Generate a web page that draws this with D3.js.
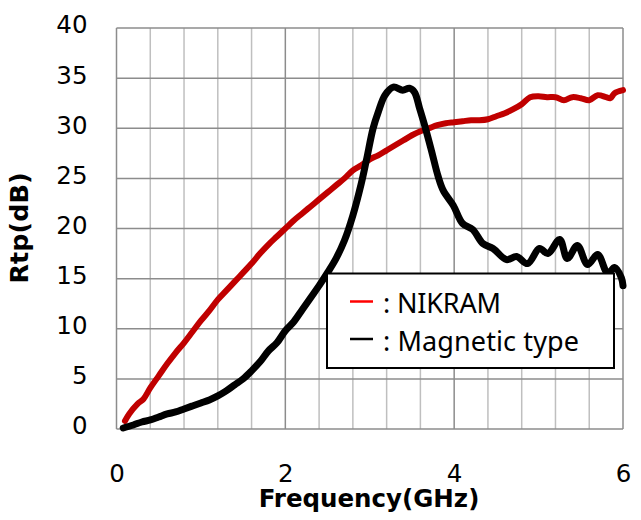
<!DOCTYPE html>
<html>
<head>
<meta charset="utf-8">
<script src="https://cdn.jsdelivr.net/npm/d3@7"></script>
<style>
  html, body { margin: 0; padding: 0; background: #fff; }
  svg { display: block; }
</style>
</head>
<body>
<svg id="chart" width="641" height="520"></svg>
<script>
// ---- data ----
const nikramFreq = [0.1,0.15,0.25,0.32,0.4,0.5,0.6,0.7,0.8,0.9,1.0,1.1,1.2,1.3,1.4,1.5,1.6,1.7,1.8,1.9,2.0,2.1,2.2,2.3,2.4,2.5,2.6,2.7,2.8,2.9,3.0,3.1,3.2,3.3,3.4,3.5,3.6,3.7,3.8,3.9,4.0,4.1,4.2,4.3,4.4,4.5,4.6,4.7,4.8,4.9,5.0,5.1,5.2,5.3,5.4,5.5,5.6,5.7,5.8,5.85,5.9,6.0];
const nikramRtp  = [0.8,1.5,2.5,3.0,4.1,5.3,6.5,7.6,8.6,9.7,10.8,11.8,12.9,13.8,14.7,15.6,16.5,17.5,18.4,19.2,20.0,20.8,21.5,22.2,22.9,23.6,24.3,25.0,25.8,26.3,26.9,27.3,27.8,28.3,28.8,29.3,29.7,30.0,30.3,30.5,30.6,30.7,30.8,30.8,30.9,31.2,31.5,31.9,32.4,33.1,33.2,33.1,33.1,32.8,33.1,33.0,32.8,33.3,33.1,33.0,33.5,33.8];

const magFreq = [0.08,0.2,0.3,0.4,0.5,0.6,0.7,0.8,0.9,1.0,1.1,1.2,1.3,1.4,1.5,1.6,1.7,1.8,1.9,2.0,2.1,2.2,2.3,2.4,2.5,2.6,2.7,2.8,2.9,2.96,3.04,3.1,3.18,3.28,3.39,3.47,3.53,3.59,3.65,3.73,3.81,3.87,3.99,4.1,4.22,4.34,4.46,4.62,4.74,4.87,5.01,5.11,5.25,5.34,5.46,5.58,5.70,5.82,5.90,5.98,6.0];
const magRtp  = [0.1,0.4,0.7,0.9,1.2,1.5,1.7,2.0,2.3,2.6,2.9,3.3,3.8,4.4,5.0,5.8,6.7,7.8,8.6,9.8,10.7,11.9,13.1,14.3,15.6,17.0,18.8,21.3,24.5,26.8,30.0,31.6,33.3,34.1,33.8,34.0,33.6,32.0,30.3,27.8,25.2,23.8,22.3,20.5,19.9,18.5,18.0,16.9,17.2,16.5,18.0,17.5,18.9,17.0,18.3,16.4,17.4,15.5,16.1,15.1,14.3];

const yTicks = [0,5,10,15,20,25,30,35,40];
const xTicks = [0,2,4,6];
const xMinor = d3.range(0, 6.0001, 0.4);
const legendLabels = [": NIKRAM", ": Magnetic type"];
const legendColors = ["#ff0000", "#000000"];

// ---- layout ----
const svg = d3.select("#chart");
const L = 116.5, R = 623, T = 28, B = 429;
const x = d3.scaleLinear().domain([0, 6]).range([L, R]);
const y = d3.scaleLinear().domain([0, 40]).range([B, T]);

// grid
const isMajor = d => Math.abs(d / 2 - Math.round(d / 2)) < 1e-6;
const grid = svg.append("g");
grid.selectAll("line.v").data(xMinor).join("line")
  .attr("x1", d => x(d)).attr("x2", d => x(d))
  .attr("y1", T).attr("y2", B)
  .attr("stroke", d => isMajor(d) ? "#8c8c8c" : "#bfbfbf")
  .attr("stroke-width", 1.5);
grid.selectAll("line.h").data(yTicks).join("line")
  .attr("x1", L).attr("x2", R)
  .attr("y1", d => y(d)).attr("y2", d => y(d))
  .attr("stroke", "#8c8c8c").attr("stroke-width", 1.5);

// axes labels (through d3 axes)
const yAxis = svg.append("g").attr("transform", `translate(${L - 29},0)`)
  .call(d3.axisLeft(y).tickValues(yTicks).tickFormat(d3.format("d")).tickSize(0).tickPadding(0));
yAxis.select(".domain").remove();
yAxis.selectAll("text")
  .attr("font-family", "DejaVu Sans").attr("font-size", 24.5).attr("fill", "#000")
  .attr("dy", "0.2em");

const xAxis = svg.append("g").attr("transform", `translate(0,${B})`)
  .call(d3.axisBottom(x).tickValues(xTicks).tickFormat(d3.format("d")).tickSize(0).tickPadding(0));
xAxis.select(".domain").remove();
xAxis.selectAll("text")
  .attr("font-family", "DejaVu Sans").attr("font-size", 24.5).attr("fill", "#000")
  .attr("dy", null).attr("y", 53);

// titles
svg.append("text").attr("x", 369).attr("y", 507).attr("text-anchor", "middle")
  .attr("font-family", "DejaVu Sans").attr("font-weight", "bold").attr("font-size", 24.5)
  .text("Frequency(GHz)");
svg.append("text").attr("transform", "translate(28,228) rotate(-90)").attr("text-anchor", "middle")
  .attr("font-family", "DejaVu Sans").attr("font-weight", "bold").attr("font-size", 25.5)
  .text("Rtp(dB)");

// lines
const line = d3.line().x(d => x(d[0])).y(d => y(d[1])).curve(d3.curveCatmullRom.alpha(0.5));
svg.append("path").datum(nikramFreq.map((f, i) => [f, nikramRtp[i]]))
  .attr("d", line).attr("fill", "none").attr("stroke", "#c00000")
  .attr("stroke-width", 6).attr("stroke-linejoin", "round").attr("stroke-linecap", "round");
svg.append("path").datum(magFreq.map((f, i) => [f, magRtp[i]]))
  .attr("d", line).attr("fill", "none").attr("stroke", "#000")
  .attr("stroke-width", 7).attr("stroke-linejoin", "round").attr("stroke-linecap", "round");

// legend
const lg = svg.append("g");
lg.append("rect").attr("x", 327).attr("y", 273.5).attr("width", 287).attr("height", 94.5)
  .attr("fill", "#fff").attr("stroke", "#000").attr("stroke-width", 2);
const items = lg.selectAll("g.item").data(legendLabels).join("g")
  .attr("transform", (d, i) => `translate(0,${301.5 + i * 37.5})`);
items.append("line").attr("x1", 350).attr("x2", 373).attr("y1", 0).attr("y2", 0)
  .attr("stroke", (d, i) => legendColors[i]).attr("stroke-width", 2.5);
items.append("text").attr("x", 383).attr("y", 11.5)
  .attr("font-family", "Noto Sans").attr("font-size", 27).attr("fill", "#000")
  .attr("textLength", (d, i) => i === 0 ? 118 : 196).attr("lengthAdjust", "spacing")
  .text(d => d);
</script>
</body>
</html>
